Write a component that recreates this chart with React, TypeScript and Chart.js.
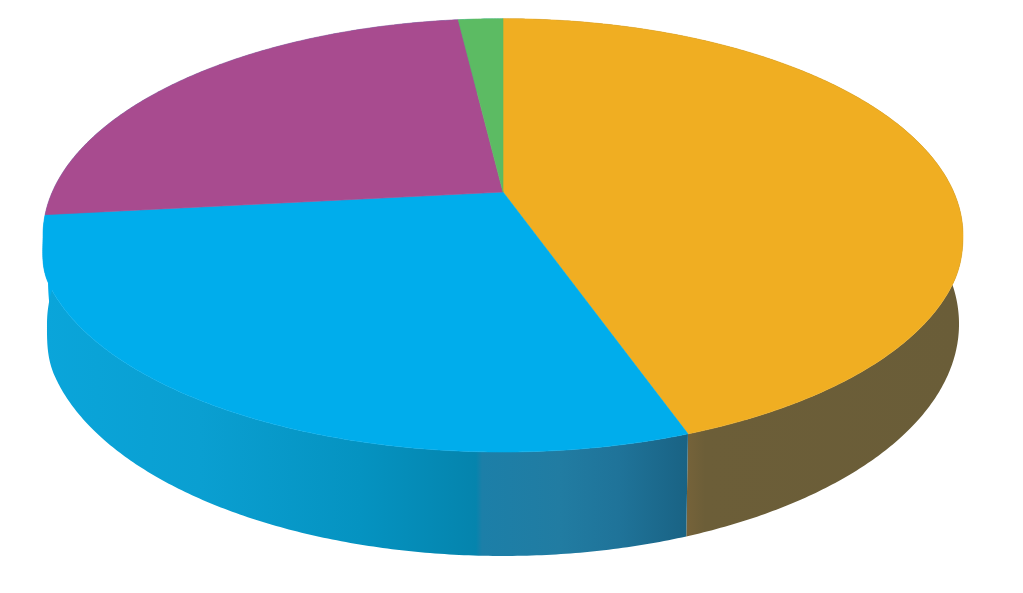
import React, { useEffect, useRef } from "react";
import { Chart, registerables } from "chart.js";

Chart.register(...registerables);

// Data (share of the pie, clockwise from 12 o'clock)
const categories = ["Segment A", "Segment B", "Segment C", "Segment D"];
const shares = [44.6, 28.7, 24.8, 1.9];
const faceColors = ["#F0AE22", "#00ADEC", "#A84B8F", "#5CBB63"];

// Side wall shading, stops along the canvas x axis
const WALL_STOPS: [number, string][][] = [
  [[680, "#79643A"], [705, "#6C5E38"], [960, "#6A5D38"]],
  [
    [45, "#0AA5DA"],
    [200, "#0A9FD1"],
    [360, "#0593C1"],
    [476, "#0584AD"],
    [482, "#1C7FA8"],
    [560, "#217CA2"],
    [620, "#1F7399"],
    [690, "#196283"],
  ],
  // the back of the pie is not shaded: what shows at the far left reads as the blue face
  [[40, "#00ADEC"], [500, "#00ADEC"]],
  [[450, "#00ADEC"], [510, "#00ADEC"]],
];

// Perspective projection of the disc on to the canvas
const W = 1023;
const H = 593;
const CX = 503;
const P = 0.2;
type Disc = { y: number; a: number; b: number; left: number; right: number };
const TOP: Disc = { y: 192, a: 450.7, b: 208, left: 0.012, right: 0.003 };
const BOTTOM: Disc = { y: 277.6, a: 446.8, b: 222.7, left: 0.008, right: 0 };
const STEP = Math.PI / 360;

function fullness(v: number): number {
  if (v <= 0.2) return 0;
  const t = Math.min(1, (v - 0.2) / 0.2);
  const rise = t * t * (3 - 2 * t);
  const q = Math.max(0, (v - 0.4) / 0.6);
  return rise * (1 - q * q);
}

function project(d: Disc, angle: number): [number, number] {
  const u = Math.cos(angle);
  const v = Math.sin(angle);
  const w = 1 - P * v;
  const bulge = 1 + (u < 0 ? d.left : d.right) * fullness(v);
  return [CX + (bulge * d.a * u) / w, d.y + (bulge * d.b * v) / w];
}

function arcPoints(d: Disc, start: number, end: number): [number, number][] {
  const pts: [number, number][] = [];
  const n = Math.max(2, Math.ceil((end - start) / STEP));
  for (let i = 0; i <= n; i++) pts.push(project(d, start + ((end - start) * i) / n));
  return pts;
}

const pie3d = {
  id: "pie3d",
  beforeDatasetDraw(chart: Chart) {
    const ctx = chart.ctx;
    const arcs = chart.getDatasetMeta(0).data as any[];
    ctx.save();
    ctx.lineJoin = "round";

    arcs.forEach((arc, i) => {
      const top = arcPoints(TOP, arc.startAngle, arc.endAngle);
      const bottom = arcPoints(BOTTOM, arc.startAngle, arc.endAngle).reverse();
      const stops = WALL_STOPS[i];
      const x0 = stops[0][0];
      const x1 = stops[stops.length - 1][0];
      const g = ctx.createLinearGradient(x0, 0, x1, 0);
      stops.forEach(([x, c]) => g.addColorStop((x - x0) / (x1 - x0), c));
      ctx.beginPath();
      [...top, ...bottom].forEach(([x, y], k) => (k ? ctx.lineTo(x, y) : ctx.moveTo(x, y)));
      ctx.closePath();
      ctx.fillStyle = g;
      ctx.fill();
    });

    arcs.forEach((arc, i) => {
      const pts = arcPoints(TOP, arc.startAngle, arc.endAngle);
      ctx.beginPath();
      ctx.moveTo(CX, TOP.y);
      pts.forEach(([x, y]) => ctx.lineTo(x, y));
      ctx.closePath();
      ctx.fillStyle = faceColors[i];
      ctx.strokeStyle = faceColors[i];
      ctx.lineWidth = 0.6;
      ctx.fill();
      ctx.stroke();
    });

    ctx.restore();
    return false;
  },
};

export default function App() {
  const ref = useRef<HTMLCanvasElement>(null);

  useEffect(() => {
    document.body.style.margin = "0";
    document.body.style.background = "#ffffff";
    const chart = new Chart(ref.current as HTMLCanvasElement, {
      type: "pie",
      data: {
        labels: categories,
        datasets: [{ data: shares, backgroundColor: faceColors, borderWidth: 0 }],
      },
      options: {
        animation: false,
        responsive: false,
        events: [],
        plugins: { legend: { display: false }, tooltip: { enabled: false } },
      },
      plugins: [pie3d],
    });
    return () => chart.destroy();
  }, []);

  return <canvas ref={ref} width={W} height={H} style={{ display: "block" }} />;
}
